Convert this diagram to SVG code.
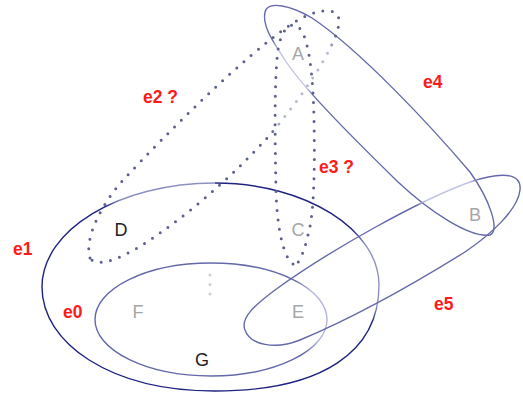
<svg xmlns="http://www.w3.org/2000/svg" width="523" height="396" viewBox="0 0 523 396">
  <style>
    .edge { fill: none; stroke-width: 1.4; }
    .dot { fill: none; stroke-width: 3; stroke-linecap: round; stroke-dasharray: 0 9.5; }
    .elabel { font-family: "Liberation Sans", Arial, sans-serif; font-size: 17.5px; font-weight: bold; fill: #ff1a1a; }
    .nlabel { font-family: "Liberation Sans", Arial, sans-serif; font-size: 18px; text-anchor: middle; }
    .light { fill: #a6a6a6; }
    .dark { fill: #222222; }
  </style>
  <defs>
    <linearGradient id="g1a" gradientUnits="userSpaceOnUse" x1="42" y1="0" x2="215" y2="0">
      <stop offset="0" stop-color="#1e2280"/>
      <stop offset="0.36" stop-color="#1e2280"/>
      <stop offset="0.46" stop-color="#8e90c4"/>
      <stop offset="1" stop-color="#8e90c4"/>
    </linearGradient>
    <linearGradient id="g1b" gradientUnits="userSpaceOnUse" x1="0" y1="183" x2="0" y2="285">
      <stop offset="0" stop-color="#1e2280"/>
      <stop offset="0.45" stop-color="#1e2280"/>
      <stop offset="0.6" stop-color="#8e90c4"/>
      <stop offset="1" stop-color="#8e90c4"/>
    </linearGradient>
    <linearGradient id="g1c" gradientUnits="userSpaceOnUse" x1="0" y1="285" x2="0" y2="391">
      <stop offset="0" stop-color="#8e90c4"/>
      <stop offset="0.2" stop-color="#8e90c4"/>
      <stop offset="0.35" stop-color="#1e2280"/>
      <stop offset="1" stop-color="#1e2280"/>
    </linearGradient>
    <radialGradient id="g4" gradientUnits="userSpaceOnUse" cx="296" cy="66" r="34">
      <stop offset="0" stop-color="#c2c4e2"/>
      <stop offset="0.7" stop-color="#c2c4e2"/>
      <stop offset="1" stop-color="#6468aa"/>
    </radialGradient>
    <radialGradient id="g5" gradientUnits="userSpaceOnUse" cx="446" cy="188" r="34">
      <stop offset="0" stop-color="#c2c4e2"/>
      <stop offset="0.7" stop-color="#c2c4e2"/>
      <stop offset="1" stop-color="#6468aa"/>
    </radialGradient>
    <radialGradient id="g0" gradientUnits="userSpaceOnUse" cx="320" cy="315" r="42">
      <stop offset="0" stop-color="#b4b6dc"/>
      <stop offset="0.6" stop-color="#b4b6dc"/>
      <stop offset="1" stop-color="#6468aa"/>
    </radialGradient>
    <radialGradient id="g2" gradientUnits="userSpaceOnUse" cx="305" cy="86" r="58">
      <stop offset="0" stop-color="#b8bad0"/>
      <stop offset="0.75" stop-color="#b8bad0"/>
      <stop offset="1" stop-color="#5c6090"/>
    </radialGradient>
  </defs>

  <g id="connectors">
    <g id="e1">
      <path class="edge" stroke="url(#g1a)" stroke-width="1.6" d="M42,287 C42,230 119,183 215,183"/>
      <path class="edge" stroke="url(#g1b)" stroke-width="1.6" d="M215,183 C306,183 379,230 379,285"/>
      <path class="edge" stroke="url(#g1c)" stroke-width="1.6" d="M379,285 C379,352 322,391 215,391"/>
      <path class="edge" stroke="#1e2280" stroke-width="1.6" d="M215,391 C110,391 42,343 42,287"/>
    </g>
    <ellipse id="e0" class="edge" stroke="url(#g0)" cx="211" cy="319.5" rx="116" ry="56.5"/>
    <path id="e4" class="edge" stroke="url(#g4)" d="M265,12 C268,0 292,6 312,18 C360,50 430,125 470,172 C490,200 500,230 490,235 C470,238 430,212 398,182 C350,135 300,85 283,57 C272,40 262,25 265,12 Z"/>
    <path id="e5" class="edge" stroke="url(#g5)" d="M245,330 C240,318 255,305 275,290 C330,250 420,200 470,182 C500,172 522,172 520,190 C518,210 490,235 465,252 C420,280 360,315 300,340 C275,350 250,345 245,330 Z"/>
    <path id="e2" class="dot" stroke="url(#g2)" d="M90,258 C84,240 100,205 125,178 C170,130 240,60 290,25 C315,8 340,5 339,22 C338,45 300,100 268,137 C240,168 200,205 160,233 C130,255 98,270 90,258 Z"/>
    <path id="e3" class="dot" stroke="#5c6090" d="M293,264 C284,258 277,230 276,190 C275,140 274,80 278,50 C281,30 290,22 297,26 C308,32 313,70 314,120 C315,170 314,215 308,235 C304,252 298,268 293,264 Z"/>
    <path id="e6" class="dot" stroke="#d0d0d0" stroke-width="2" stroke-dasharray="0 12.5" d="M210,275 L210,300"/>
  </g>

  <g id="edge-labels">
    <text class="elabel" x="143" y="103">e2 ?</text>
    <text class="elabel" x="423" y="88">e4</text>
    <text class="elabel" x="319" y="173">e3 ?</text>
    <text class="elabel" x="13" y="255">e1</text>
    <text class="elabel" x="63" y="318">e0</text>
    <text class="elabel" x="434" y="310">e5</text>
  </g>

  <g id="A"><text class="nlabel light" x="298" y="60">A</text></g>
  <g id="B"><text class="nlabel light" x="475" y="221">B</text></g>
  <g id="C"><text class="nlabel light" x="298" y="236">C</text></g>
  <g id="D"><text class="nlabel dark" x="121" y="236">D</text></g>
  <g id="E"><text class="nlabel light" x="298" y="318">E</text></g>
  <g id="F"><text class="nlabel light" x="138" y="318">F</text></g>
  <g id="G"><text class="nlabel dark" x="202" y="366">G</text></g>
</svg>
